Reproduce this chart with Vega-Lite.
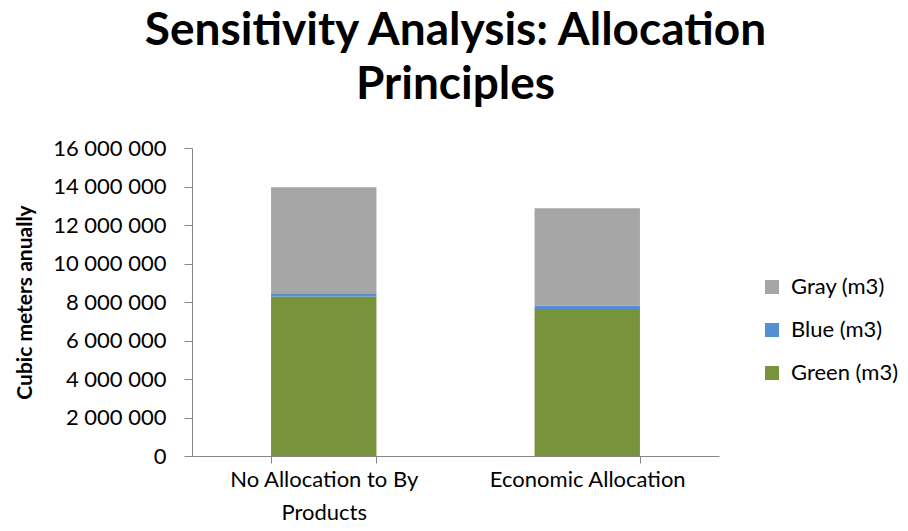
{
  "$schema": "https://vega.github.io/schema/vega-lite/v6.json",
  "width": 527,
  "height": 308,
  "autosize": {"type": "none"},
  "padding": {"left": 192, "top": 148, "right": 189, "bottom": 75},
  "background": "white",
  "title": {
    "text": ["Sensitivity Analysis: Allocation", "Principles"],
    "font": "Lato",
    "fontSize": 46,
    "fontWeight": "bold",
    "color": "#000000",
    "anchor": "middle",
    "offset": 28,
    "lineHeight": 54
  },
  "data": {
    "values": [
      {"scenario": "No Allocation to By Products", "series": "Green (m3)", "value": 8280000},
      {"scenario": "No Allocation to By Products", "series": "Blue (m3)", "value": 180000},
      {"scenario": "No Allocation to By Products", "series": "Gray (m3)", "value": 5500000},
      {"scenario": "Economic Allocation", "series": "Green (m3)", "value": 7640000},
      {"scenario": "Economic Allocation", "series": "Blue (m3)", "value": 160000},
      {"scenario": "Economic Allocation", "series": "Gray (m3)", "value": 5070000}
    ]
  },
  "transform": [
    {"calculate": "indexof(['Green (m3)','Blue (m3)','Gray (m3)'], datum.series)", "as": "stackRank"}
  ],
  "mark": {"type": "bar"},
  "encoding": {
    "x": {
      "field": "scenario",
      "type": "nominal",
      "sort": ["No Allocation to By Products", "Economic Allocation"],
      "scale": {"paddingInner": 0.6, "paddingOuter": 0.3},
      "axis": {
        "title": null,
        "labelAngle": 0,
        "labelFont": "Lato",
        "labelFontSize": 22,
        "labelColor": "#000000",
        "labelLineHeight": 33,
        "labelPadding": 6,
        "labelLimit": 0,
        "labelExpr": "datum.value == 'No Allocation to By Products' ? ['No Allocation to By', 'Products'] : datum.value",
        "tickBand": "extent",
        "tickSize": 7,
        "tickColor": "#868686",
        "domainColor": "#868686",
        "grid": false
      }
    },
    "y": {
      "field": "value",
      "type": "quantitative",
      "stack": "zero",
      "scale": {"domain": [0, 16000000], "nice": false},
      "axis": {
        "title": "Cubic meters anually",
        "titleFont": "Lato",
        "titleFontSize": 21,
        "titleFontWeight": "bold",
        "titleColor": "#000000",
        "titlePadding": 17,
        "values": [0, 2000000, 4000000, 6000000, 8000000, 10000000, 12000000, 14000000, 16000000],
        "labelExpr": "replace(format(datum.value, ','), /,/g, ' ')",
        "labelFont": "Lato",
        "labelFontSize": 22,
        "labelColor": "#000000",
        "labelPadding": 18,
        "tickSize": 8,
        "tickColor": "#868686",
        "domainColor": "#868686",
        "grid": false
      }
    },
    "color": {
      "field": "series",
      "type": "nominal",
      "scale": {
        "domain": ["Gray (m3)", "Blue (m3)", "Green (m3)"],
        "range": ["#A6A6A6", "#558ED5", "#77933C"]
      },
      "legend": {
        "title": null,
        "orient": "none",
        "legendX": 569,
        "legendY": 128,
        "symbolType": "square",
        "symbolSize": 196,
        "symbolStrokeWidth": 0,
        "labelFont": "Lato",
        "labelFontSize": 22,
        "labelColor": "#000000",
        "labelOffset": 8,
        "labelLimit": 0,
        "rowPadding": 21
      }
    },
    "order": {"field": "stackRank", "type": "quantitative"}
  },
  "config": {"view": {"stroke": null}}
}
